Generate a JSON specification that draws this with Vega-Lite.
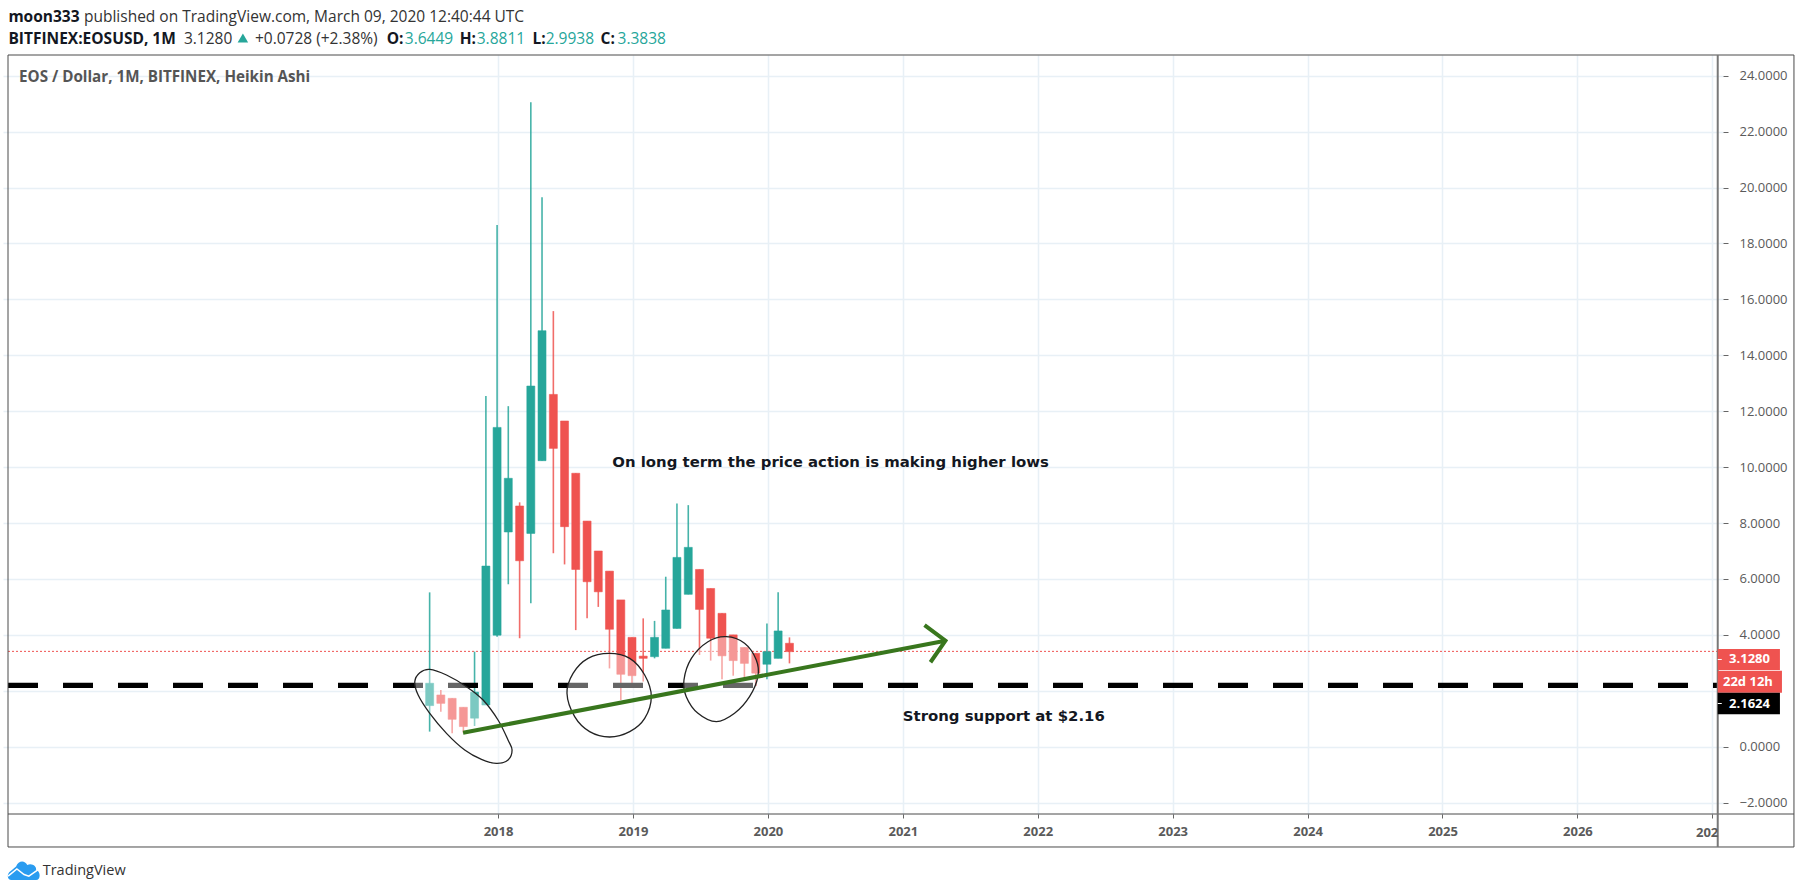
{
  "$schema": "https://vega.github.io/schema/vega-lite/v6.json",
  "width": 1720,
  "height": 759,
  "autosize": "none",
  "padding": {"left": 3, "top": 55, "right": 81, "bottom": 80},
  "background": "white",
  "view": {"stroke": null},
  "config": {
    "text": {"font": "Open Sans", "align": "left", "baseline": "middle"},
    "axis": {
      "title": null,
      "domain": false,
      "grid": true,
      "gridColor": "#e8f0f6",
      "gridWidth": 1.5,
      "tickColor": "#666666",
      "labelFont": "Open Sans",
      "labelFontSize": 13,
      "labelColor": "#5a5a5a"
    }
  },
  "datasets": {
    "candles": [
      {"month": "2017-07", "year": 2017.493, "open": 2.27, "close": 1.47, "high": 5.52, "low": 0.54, "dir": "up"},
      {"month": "2017-08", "year": 2017.576, "open": 1.85, "close": 1.55, "high": 2.03, "low": 1.25, "dir": "down"},
      {"month": "2017-09", "year": 2017.66, "open": 1.73, "close": 0.98, "high": 1.73, "low": 0.48, "dir": "down"},
      {"month": "2017-10", "year": 2017.743, "open": 1.41, "close": 0.72, "high": 1.41, "low": 0.5, "dir": "down"},
      {"month": "2017-11", "year": 2017.826, "open": 1.02, "close": 1.95, "high": 3.4, "low": 0.74, "dir": "up"},
      {"month": "2017-12", "year": 2017.91, "open": 1.49, "close": 6.46, "high": 12.54, "low": 1.49, "dir": "up"},
      {"month": "2018-01", "year": 2017.993, "open": 3.99, "close": 11.42, "high": 18.66, "low": 3.93, "dir": "up"},
      {"month": "2018-02", "year": 2018.076, "open": 7.68, "close": 9.6, "high": 12.18, "low": 5.81, "dir": "up"},
      {"month": "2018-03", "year": 2018.16, "open": 8.61, "close": 6.65, "high": 8.74, "low": 3.88, "dir": "down"},
      {"month": "2018-04", "year": 2018.243, "open": 7.63, "close": 12.9, "high": 23.05, "low": 5.13, "dir": "up"},
      {"month": "2018-05", "year": 2018.326, "open": 10.23, "close": 14.88, "high": 19.65, "low": 10.23, "dir": "up"},
      {"month": "2018-06", "year": 2018.41, "open": 12.6, "close": 10.67, "high": 15.58, "low": 6.92, "dir": "down"},
      {"month": "2018-07", "year": 2018.493, "open": 11.65, "close": 7.87, "high": 11.65, "low": 6.52, "dir": "down"},
      {"month": "2018-08", "year": 2018.576, "open": 9.78, "close": 6.34, "high": 9.78, "low": 4.17, "dir": "down"},
      {"month": "2018-09", "year": 2018.66, "open": 8.07, "close": 5.9, "high": 8.07, "low": 4.59, "dir": "down"},
      {"month": "2018-10", "year": 2018.743, "open": 7.0, "close": 5.54, "high": 7.0, "low": 5.0, "dir": "down"},
      {"month": "2018-11", "year": 2018.826, "open": 6.28, "close": 4.2, "high": 6.28, "low": 2.8, "dir": "down"},
      {"month": "2018-12", "year": 2018.91, "open": 5.25, "close": 2.59, "high": 5.25, "low": 1.67, "dir": "down"},
      {"month": "2019-01", "year": 2018.993, "open": 3.91, "close": 2.54, "high": 3.91, "low": 2.24, "dir": "down"},
      {"month": "2019-02", "year": 2019.076, "open": 3.24, "close": 3.16, "high": 4.59, "low": 2.33, "dir": "down"},
      {"month": "2019-03", "year": 2019.16, "open": 3.22, "close": 3.91, "high": 4.5, "low": 3.16, "dir": "up"},
      {"month": "2019-04", "year": 2019.243, "open": 3.52, "close": 4.89, "high": 6.08, "low": 3.52, "dir": "up"},
      {"month": "2019-05", "year": 2019.326, "open": 4.23, "close": 6.77, "high": 8.7, "low": 4.23, "dir": "up"},
      {"month": "2019-06", "year": 2019.41, "open": 5.45, "close": 7.13, "high": 8.64, "low": 5.45, "dir": "up"},
      {"month": "2019-07", "year": 2019.493, "open": 6.34, "close": 4.91, "high": 6.34, "low": 3.28, "dir": "down"},
      {"month": "2019-08", "year": 2019.576, "open": 5.66, "close": 3.88, "high": 5.66, "low": 3.08, "dir": "down"},
      {"month": "2019-09", "year": 2019.66, "open": 4.77, "close": 3.25, "high": 4.77, "low": 2.41, "dir": "down"},
      {"month": "2019-10", "year": 2019.743, "open": 4.0, "close": 3.08, "high": 4.0, "low": 2.54, "dir": "down"},
      {"month": "2019-11", "year": 2019.826, "open": 3.55, "close": 2.98, "high": 3.55, "low": 2.48, "dir": "down"},
      {"month": "2019-12", "year": 2019.91, "open": 3.34, "close": 2.63, "high": 3.34, "low": 2.17, "dir": "down"},
      {"month": "2020-01", "year": 2019.993, "open": 2.95, "close": 3.4, "high": 4.41, "low": 2.41, "dir": "up"},
      {"month": "2020-02", "year": 2020.076, "open": 3.16, "close": 4.14, "high": 5.52, "low": 3.16, "dir": "up"},
      {"month": "2020-03", "year": 2020.16, "open": 3.7, "close": 3.4, "high": 3.91, "low": 2.98, "dir": "down"}
    ],
    "ellipses": [
      {"shape": "a", "n": 1, "year": 2017.494, "price": 2.767},
      {"shape": "a", "n": 2, "year": 2017.618, "price": 2.564},
      {"shape": "a", "n": 3, "year": 2017.766, "price": 2.147},
      {"shape": "a", "n": 4, "year": 2017.889, "price": 1.67},
      {"shape": "a", "n": 5, "year": 2018.0, "price": 0.955},
      {"shape": "a", "n": 6, "year": 2018.074, "price": 0.24},
      {"shape": "a", "n": 7, "year": 2018.104, "price": -0.118},
      {"shape": "a", "n": 8, "year": 2018.074, "price": -0.476},
      {"shape": "a", "n": 9, "year": 2017.988, "price": -0.595},
      {"shape": "a", "n": 10, "year": 2017.877, "price": -0.452},
      {"shape": "a", "n": 11, "year": 2017.753, "price": -0.118},
      {"shape": "a", "n": 12, "year": 2017.618, "price": 0.478},
      {"shape": "a", "n": 13, "year": 2017.494, "price": 1.193},
      {"shape": "a", "n": 14, "year": 2017.408, "price": 1.849},
      {"shape": "a", "n": 15, "year": 2017.383, "price": 2.326},
      {"shape": "a", "n": 16, "year": 2017.42, "price": 2.648},
      {"shape": "b", "n": 1, "year": 2018.823, "price": 3.339},
      {"shape": "b", "n": 2, "year": 2018.976, "price": 3.16},
      {"shape": "b", "n": 3, "year": 2019.087, "price": 2.564},
      {"shape": "b", "n": 4, "year": 2019.136, "price": 1.789},
      {"shape": "b", "n": 5, "year": 2019.087, "price": 1.014},
      {"shape": "b", "n": 6, "year": 2018.976, "price": 0.538},
      {"shape": "b", "n": 7, "year": 2018.827, "price": 0.347},
      {"shape": "b", "n": 8, "year": 2018.679, "price": 0.538},
      {"shape": "b", "n": 9, "year": 2018.568, "price": 1.074},
      {"shape": "b", "n": 10, "year": 2018.511, "price": 1.909},
      {"shape": "b", "n": 11, "year": 2018.556, "price": 2.624},
      {"shape": "b", "n": 12, "year": 2018.667, "price": 3.16},
      {"shape": "c", "n": 1, "year": 2019.692, "price": 3.935},
      {"shape": "c", "n": 2, "year": 2019.827, "price": 3.697},
      {"shape": "c", "n": 3, "year": 2019.914, "price": 3.101},
      {"shape": "c", "n": 4, "year": 2019.926, "price": 2.505},
      {"shape": "c", "n": 5, "year": 2019.864, "price": 1.789},
      {"shape": "c", "n": 6, "year": 2019.753, "price": 1.193},
      {"shape": "c", "n": 7, "year": 2019.618, "price": 0.895},
      {"shape": "c", "n": 8, "year": 2019.482, "price": 1.193},
      {"shape": "c", "n": 9, "year": 2019.395, "price": 1.789},
      {"shape": "c", "n": 10, "year": 2019.378, "price": 2.385},
      {"shape": "c", "n": 11, "year": 2019.433, "price": 3.16},
      {"shape": "c", "n": 12, "year": 2019.556, "price": 3.756}
    ],
    "arrow": [
      {"part": "shaft", "n": 1, "year": 2017.741, "price": 0.5},
      {"part": "shaft", "n": 2, "year": 2021.316, "price": 3.79},
      {"part": "head", "n": 1, "year": 2021.161, "price": 4.35},
      {"part": "head", "n": 2, "year": 2021.316, "price": 3.79},
      {"part": "head", "n": 3, "year": 2021.205, "price": 3.02}
    ],
    "frameH": [
      {"year": 2014.368, "year2": 2027.605, "price": 24.74},
      {"year": 2014.368, "year2": 2027.605, "price": -2.407},
      {"year": 2014.368, "year2": 2027.605, "price": -3.587}
    ],
    "frameV": [
      {"year": 2014.368, "price": 24.74, "price2": -3.587},
      {"year": 2027.605, "price": 24.74, "price2": -3.587}
    ],
    "tagsRed": [
      {"year": 2027.04, "year2": 2027.501, "price": 3.494, "price2": 2.743},
      {"year": 2027.04, "year2": 2027.516, "price": 2.718, "price2": 1.931}
    ],
    "tagsBlack": [
      {"year": 2027.04, "year2": 2027.501, "price": 1.931, "price2": 1.159}
    ],
    "tagTicks": [
      {"year": 2027.04, "year2": 2027.07, "price": 3.12},
      {"year": 2027.04, "year2": 2027.07, "price": 1.545}
    ],
    "tagLabels": [
      {"year": 2027.124, "price": 3.12, "label": "3.1280"},
      {"year": 2027.079, "price": 2.325, "label": "22d 12h"},
      {"year": 2027.124, "price": 1.545, "label": "2.1624"}
    ],
    "headerBold": [
      {"year": 2014.371, "price": 26.11, "label": "moon333"},
      {"year": 2014.371, "price": 25.31, "label": "BITFINEX:EOSUSD, 1M"},
      {"year": 2017.175, "price": 25.31, "label": "O:"},
      {"year": 2017.716, "price": 25.31, "label": "H:"},
      {"year": 2018.256, "price": 25.31, "label": "L:"},
      {"year": 2018.76, "price": 25.31, "label": "C:"}
    ],
    "headerRegular": [
      {"year": 2014.931, "price": 26.11, "label": "published on TradingView.com, March 09, 2020 12:40:44 UTC"},
      {"year": 2015.672, "price": 25.31, "label": "3.1280"},
      {"year": 2016.198, "price": 25.31, "label": "+0.0728 (+2.38%)"}
    ],
    "headerValues": [
      {"year": 2017.309, "price": 25.31, "label": "3.6449"},
      {"year": 2017.842, "price": 25.31, "label": "3.8811"},
      {"year": 2018.353, "price": 25.31, "label": "2.9938"},
      {"year": 2018.886, "price": 25.31, "label": "3.3838"}
    ],
    "notes": [
      {"year": 2018.847, "price": 10.157, "label": "On long term the price action is making higher lows"},
      {"year": 2021.0, "price": 1.05, "label": "Strong support at $2.16"}
    ]
  },
  "encoding": {
    "x": {"field": "year", "type": "quantitative"},
    "y": {"field": "price", "type": "quantitative"}
  },
  "layer": [
    {
      "data": {"values": [{"year": 2014.368, "year2": 2027.04, "price": 3.41}]},
      "mark": {"type": "rule", "color": "#ef5350", "strokeWidth": 1, "strokeDash": [2, 2]},
      "encoding": {
        "x": {
          "field": "year",
          "type": "quantitative",
          "scale": {"domain": [2014.368, 2027.042], "nice": false, "zero": false},
          "axis": {
            "orient": "bottom",
            "values": [2018, 2019, 2020, 2021, 2022, 2023, 2024, 2025, 2026, 2027],
            "labelExpr": "datum.value == 2027 ? '' : format(datum.value, 'd')",
            "labelFontWeight": "bold",
            "tickSize": 4,
            "labelPadding": 7
          }
        },
        "x2": {"field": "year2"},
        "y": {
          "field": "price",
          "type": "quantitative",
          "scale": {"domain": [-2.407, 24.74], "nice": false, "zero": false},
          "axis": {
            "orient": "right",
            "values": [-2, 0, 2, 4, 6, 8, 10, 12, 14, 16, 18, 20, 22, 24],
            "labelExpr": "datum.value == 2 ? '' : format(datum.value, '.4f')",
            "tickSize": 5,
            "labelPadding": 11
          }
        }
      }
    },
    {
      "data": {"name": "candles"},
      "mark": {"type": "rule", "strokeWidth": 1.6, "opacity": 0.85},
      "encoding": {
        "y": {"field": "low", "type": "quantitative"},
        "y2": {"field": "high"},
        "color": {
          "field": "dir",
          "type": "nominal",
          "scale": {"domain": ["up", "down"], "range": ["#26a69a", "#ef5350"]},
          "legend": null
        }
      }
    },
    {
      "data": {"name": "candles"},
      "mark": {"type": "bar", "size": 8, "strokeWidth": 1, "strokeOpacity": 0.55},
      "encoding": {
        "y": {"field": "open", "type": "quantitative"},
        "y2": {"field": "close"},
        "color": {"field": "dir", "type": "nominal", "legend": null},
        "stroke": {
          "field": "dir",
          "type": "nominal",
          "scale": {"domain": ["up", "down"], "range": ["#26a69a", "#ef5350"]},
          "legend": null
        }
      }
    },
    {
      "data": {"values": [{"year": 2014.368, "year2": 2027.04, "price": 2.19}]},
      "mark": {"type": "rule", "color": "#000000", "strokeWidth": 5.3, "strokeDash": [30, 25]},
      "encoding": {"x2": {"field": "year2"}}
    },
    {
      "data": {"name": "ellipses"},
      "mark": {
        "type": "line",
        "interpolate": "cardinal-closed",
        "stroke": "#222222",
        "strokeWidth": 1.3,
        "fill": "#ffffff",
        "fillOpacity": 0.4
      },
      "encoding": {
        "detail": {"field": "shape"},
        "order": {"field": "n", "type": "quantitative"}
      }
    },
    {
      "data": {"name": "arrow"},
      "mark": {"type": "line", "color": "#38761d", "strokeWidth": 4},
      "encoding": {
        "detail": {"field": "part"},
        "order": {"field": "n", "type": "quantitative"}
      }
    },
    {
      "data": {"name": "frameV"},
      "mark": {"type": "rule", "color": "#4a4a4a", "strokeWidth": 1},
      "encoding": {"y2": {"field": "price2"}}
    },
    {
      "data": {"name": "frameH"},
      "mark": {"type": "rule", "color": "#4a4a4a", "strokeWidth": 1},
      "encoding": {"x2": {"field": "year2"}}
    },
    {
      "data": {"values": [{"year": 2027.04, "price": 24.74, "price2": -3.587}]},
      "mark": {"type": "rule", "color": "#787878", "strokeWidth": 2},
      "encoding": {"y2": {"field": "price2"}}
    },
    {
      "data": {"name": "tagsRed"},
      "mark": {"type": "rect", "color": "#ef5350"},
      "encoding": {"x2": {"field": "year2"}, "y2": {"field": "price2"}}
    },
    {
      "data": {"name": "tagsBlack"},
      "mark": {"type": "rect", "color": "#000000"},
      "encoding": {"x2": {"field": "year2"}, "y2": {"field": "price2"}}
    },
    {
      "data": {"name": "tagTicks"},
      "mark": {"type": "rule", "color": "#ffffff", "strokeWidth": 1},
      "encoding": {"x2": {"field": "year2"}}
    },
    {
      "data": {"name": "tagLabels"},
      "mark": {"type": "text", "color": "#ffffff", "fontSize": 13, "fontWeight": "bold"},
      "encoding": {"text": {"field": "label"}}
    },
    {
      "data": {"values": [{"year": 2026.879, "price": -3.086, "label": "202"}]},
      "mark": {"type": "text", "color": "#5a5a5a", "fontSize": 13, "fontWeight": "bold"},
      "encoding": {"text": {"field": "label"}}
    },
    {
      "data": {"name": "headerBold"},
      "mark": {"type": "text", "color": "#131722", "fontSize": 15.5, "fontWeight": "bold"},
      "encoding": {"text": {"field": "label"}}
    },
    {
      "data": {"name": "headerRegular"},
      "mark": {"type": "text", "color": "#333333", "fontSize": 15.5},
      "encoding": {"text": {"field": "label"}}
    },
    {
      "data": {"name": "headerValues"},
      "mark": {"type": "text", "color": "#26a69a", "fontSize": 15.5},
      "encoding": {"text": {"field": "label"}}
    },
    {
      "data": {"values": [{"year": 2016.109, "price": 25.35}]},
      "mark": {"type": "point", "shape": "triangle-up", "filled": true, "size": 110, "color": "#26a69a", "opacity": 1}
    },
    {
      "data": {"values": [{"year": 2014.45, "price": 23.96, "label": "EOS / Dollar, 1M, BITFINEX, Heikin Ashi"}]},
      "mark": {"type": "text", "color": "#555555", "fontSize": 15.2, "fontWeight": "bold"},
      "encoding": {"text": {"field": "label"}}
    },
    {
      "data": {"name": "notes"},
      "mark": {"type": "text", "font": "DejaVu Sans", "color": "#131722", "fontSize": 14.9, "fontWeight": "bold"},
      "encoding": {"text": {"field": "label"}}
    },
    {
      "data": {"values": [{"year": 2014.487, "price": -4.428}]},
      "mark": {
        "type": "point",
        "filled": true,
        "size": 1024,
        "color": "#2a9cf0",
        "opacity": 1,
        "shape": "M-0.8 0.6 C-1.05 0.6 -1.1 0.2 -0.85 0.05 L-0.5 -0.25 C-0.35 -0.65 0.05 -0.65 0.2 -0.35 C0.5 -0.5 0.8 -0.25 0.75 -0.05 C1.05 0.05 1.05 0.6 0.75 0.6 Z"
      }
    },
    {
      "data": {"values": [{"year": 2014.487, "price": -4.428}]},
      "mark": {
        "type": "point",
        "filled": false,
        "size": 1024,
        "color": "#ffffff",
        "opacity": 1,
        "strokeWidth": 1.5,
        "shape": "M-1 0.35 L-0.45 -0.1 L0 0.25 L0.3 0.35 L0.95 -0.1"
      }
    },
    {
      "data": {"values": [{"year": 2014.625, "price": -4.428, "label": "TradingView"}]},
      "mark": {"type": "text", "color": "#333333", "fontSize": 14.5},
      "encoding": {"text": {"field": "label"}}
    }
  ]
}
